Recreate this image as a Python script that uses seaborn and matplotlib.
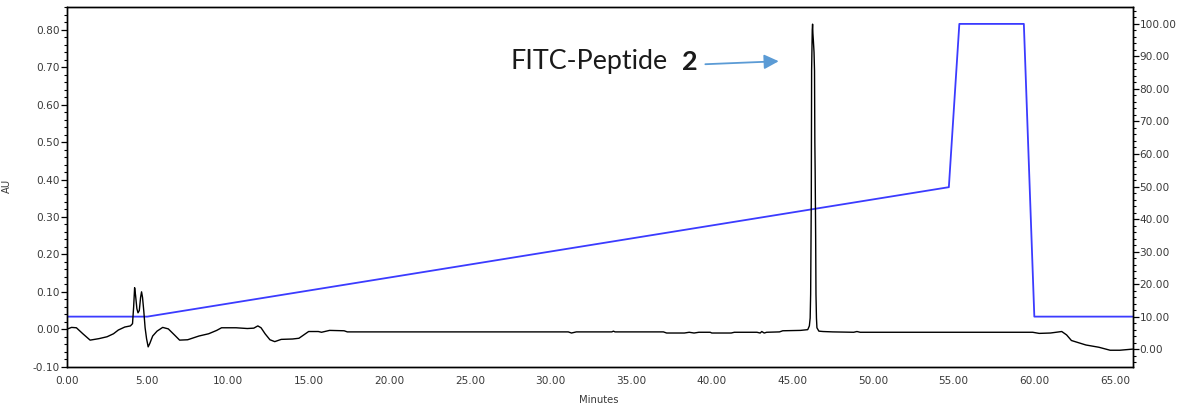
import matplotlib
matplotlib.use("Agg")
import matplotlib.pyplot as plt
from matplotlib.ticker import MultipleLocator, FormatStrFormatter
import seaborn as sns
import pandas as pd

# UV absorbance trace (minutes, AU)
time_min = [
    0.0, 0.3, 0.6, 1.0, 1.45, 2.0, 2.5, 2.9, 3.2, 3.6, 3.95,
    4.08, 4.15, 4.21, 4.27, 4.35, 4.42, 4.5, 4.58, 4.64, 4.7, 4.78, 4.86, 4.95,
    5.05, 5.15, 5.33, 5.6, 5.95, 6.3, 6.7, 7.0, 7.5, 8.2, 8.8, 9.3, 9.6,
    10.5, 11.2, 11.6, 11.85, 12.05, 12.3, 12.6, 12.9, 13.3, 14.0, 14.4, 14.7,
    15.0, 15.6, 15.8, 16.0, 16.3, 17.2, 17.4, 20.0,
    31.1, 31.3, 31.6, 33.8, 33.9, 34.0, 37.0, 37.2, 38.3, 38.6, 38.9, 39.2,
    39.9, 40.0, 41.2, 41.4, 42.8, 43.0, 43.1, 43.25, 43.4, 44.2, 44.4, 45.5,
    45.95, 46.05, 46.10, 46.13, 46.17, 46.19, 46.23, 46.25, 46.27, 46.30,
    46.34, 46.37, 46.39, 46.41, 46.44, 46.46, 46.49, 46.52, 46.64, 46.9,
    47.5, 48.8, 49.0, 49.2, 55.0, 59.9, 60.3, 61.0, 61.7, 62.0, 62.3, 63.2,
    64.0, 64.7, 65.3, 66.1,
]
absorbance_au = [
    0.000, 0.005, 0.004, -0.012, -0.029, -0.025, -0.020, -0.012, -0.002, 0.006, 0.009,
    0.015, 0.060, 0.111, 0.090, 0.055, 0.044, 0.050, 0.085, 0.100, 0.085, 0.048, 0.004, -0.025,
    -0.047, -0.038, -0.018, -0.005, 0.005, 0.001, -0.016, -0.029, -0.028, -0.018, -0.012, -0.003, 0.004,
    0.004, 0.002, 0.003, 0.009, 0.004, -0.012, -0.028, -0.033, -0.027, -0.026, -0.024, -0.015,
    -0.006, -0.006, -0.008, -0.006, -0.003, -0.004, -0.007, -0.007,
    -0.007, -0.010, -0.007, -0.007, -0.005, -0.007, -0.007, -0.010, -0.010, -0.008, -0.010, -0.008,
    -0.008, -0.010, -0.010, -0.008, -0.008, -0.010, -0.006, -0.010, -0.008, -0.007, -0.004, -0.003,
    -0.001, 0.009, 0.030, 0.094, 0.350, 0.692, 0.800, 0.815, 0.790, 0.770,
    0.740, 0.690, 0.500, 0.420, 0.250, 0.094, 0.030, 0.004, -0.005, -0.006,
    -0.007, -0.008, -0.006, -0.008, -0.008, -0.008, -0.011, -0.010, -0.006, -0.015, -0.030, -0.042,
    -0.048, -0.056, -0.056, -0.053,
]

# Solvent gradient program (minutes, % B)
gradient_time = [0.0, 5.0, 54.7, 55.35, 59.35, 60.0, 66.1]
gradient_pct_b = [10.0, 10.0, 49.8, 100.0, 100.0, 10.0, 10.0]

peak_label = "FITC-Peptide"
peak_number = "2"

trace = pd.DataFrame({"Minutes": time_min, "AU": absorbance_au})
gradient = pd.DataFrame({"Minutes": gradient_time, "%B": gradient_pct_b})

sns.set_style("white")
plt.rcParams["font.family"] = ["DejaVu Sans"]

fig = plt.figure(figsize=(11.81, 4.04), dpi=100)
ax = fig.add_axes([0.0565, 0.0923, 0.9026, 0.8896])
ax2 = ax.twinx()

sns.lineplot(data=gradient, x="Minutes", y="%B", ax=ax2, color="#3b3bff",
             linewidth=1.3, estimator=None, sort=False)
sns.lineplot(data=trace, x="Minutes", y="AU", ax=ax, color="black",
             linewidth=1.0, estimator=None, sort=False)
ax.set_zorder(ax2.get_zorder() + 1)
ax.patch.set_visible(False)

ax.set_xlim(0, 66.1)
ax.set_ylim(-0.10, 0.86)
ax2.set_ylim(-5.4, 105.1)

label_color = "#3a3a3a"
for a in (ax, ax2):
    for s in a.spines.values():
        s.set_color("black")
        s.set_linewidth(1.0)
    a.tick_params(which="major", direction="out", length=4, width=0.9,
                  color="black", labelsize=7.6, labelcolor=label_color, pad=1)
    a.tick_params(which="minor", direction="out", length=2.5, width=0.8,
                  color="black")

ax.xaxis.set_major_locator(MultipleLocator(5))
ax.xaxis.set_minor_locator(MultipleLocator(1))
ax.xaxis.set_major_formatter(FormatStrFormatter("%.2f"))
ax.yaxis.set_major_locator(MultipleLocator(0.10))
ax.yaxis.set_minor_locator(MultipleLocator(0.02))
ax.yaxis.set_major_formatter(FormatStrFormatter("%.2f"))
ax2.yaxis.set_major_locator(MultipleLocator(10))
ax2.yaxis.set_minor_locator(MultipleLocator(2))
ax2.yaxis.set_major_formatter(FormatStrFormatter("%.2f"))
ax.tick_params(axis="x", pad=3)

ax.set_xlabel("Minutes", fontsize=7.2, color=label_color)
ax.set_ylabel("AU", fontsize=7.2, color=label_color)
ax.xaxis.set_label_coords(0.4987, -0.079)
ax.yaxis.set_label_coords(-0.0513, 0.503)
ax2.set_ylabel("")

# Peak annotation
ax.text(27.53, 0.714, peak_label, fontsize=19.4, family=["Lato", "DejaVu Sans"],
        color="#1a1a1a", ha="left", va="center")
ax.text(38.15, 0.714, peak_number, fontsize=19.4, family=["Lato", "DejaVu Sans"],
        fontweight="bold", color="#1a1a1a", ha="left", va="center")
ax.annotate("", xy=(44.15, 0.716), xytext=(39.6, 0.708),
            arrowprops=dict(arrowstyle="-|>", color="#5b9bd5", lw=1.3,
                            mutation_scale=22, shrinkA=0, shrinkB=0))

fig.savefig("out.png", dpi=100)
